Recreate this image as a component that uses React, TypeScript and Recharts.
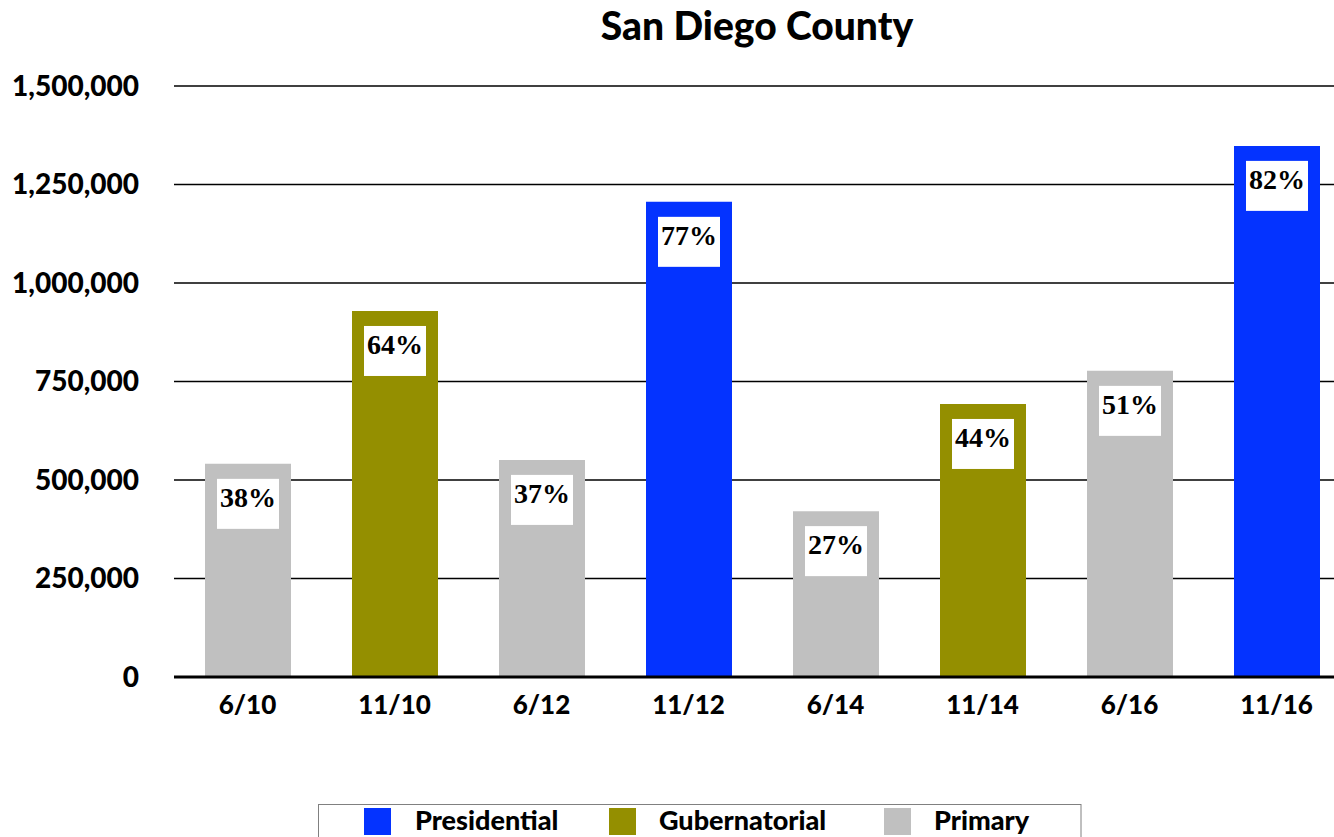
import React from 'react';
import { BarChart, Bar, XAxis, YAxis, CartesianGrid, Cell, LabelList } from 'recharts';

const categories = ['6/10', '11/10', '6/12', '11/12', '6/14', '11/14', '6/16', '11/16'];
const votes = [541000, 929000, 551000, 1206000, 421000, 693000, 777000, 1348000];
const turnoutPct = [38, 64, 37, 77, 27, 44, 51, 82];
const electionType = ['Primary', 'Gubernatorial', 'Primary', 'Presidential', 'Primary', 'Gubernatorial', 'Primary', 'Presidential'];
const yTicks = [0, 250000, 500000, 750000, 1000000, 1250000, 1500000];
const legendItems = ['Presidential', 'Gubernatorial', 'Primary'];
const typeColors: Record<string, string> = {
  Presidential: '#0433FF',
  Gubernatorial: '#948F00',
  Primary: '#C0C0C0',
};
const title = 'San Diego County';

const data = categories.map((c, i) => ({
  name: c,
  votes: votes[i],
  pct: turnoutPct[i],
  type: electionType[i],
}));

const SANS = 'Lato, "Open Sans", sans-serif';
const SERIF = '"Liberation Serif", "DejaVu Serif", serif';

const renderLabel = (props: any) => {
  const { x, y, width, value } = props;
  const cx = Number(x) + Number(width) / 2;
  const top = Number(y) + 15;
  return (
    <g>
      <rect x={cx - 31} y={top} width={62} height={50} fill="#FFFFFF" />
      <text
        x={cx}
        y={top + 28}
        textAnchor="middle"
        fontFamily={SERIF}
        fontWeight={700}
        fontSize={28}
        fill="#000"
      >
        {`${value}%`}
      </text>
    </g>
  );
};

const legendSquareX = [364, 609, 884];
const legendTextX = [415, 659, 934];

export default function App() {
  return (
    <div
      style={{
        position: 'absolute',
        left: 0,
        top: 0,
        width: 1334,
        height: 837,
        overflow: 'hidden',
        background: '#fff',
      }}
    >
      <BarChart
        width={1350}
        height={850}
        data={data}
        margin={{ top: 86, right: 0, left: 0, bottom: 143 }}
      >
        <CartesianGrid vertical={false} stroke="#000" strokeWidth={1.6} />
        <YAxis
          width={174}
          domain={[0, 1500000]}
          ticks={yTicks}
          axisLine={false}
          tickLine={false}
          tickSize={0}
          tickMargin={35}
          tickFormatter={(v: number) => v.toLocaleString('en-US')}
          tick={{ fontFamily: SANS, fontWeight: 900, fontSize: 28, fill: '#000' }}
          interval={0}
        />
        <XAxis
          dataKey="name"
          height={30}
          axisLine={{ stroke: '#000', strokeWidth: 3 }}
          tickLine={false}
          tickSize={0}
          tickMargin={19}
          interval={0}
          tick={{ fontFamily: SANS, fontWeight: 900, fontSize: 26, fill: '#000' }}
        />
        <Bar dataKey="votes" barSize={86} isAnimationActive={false}>
          {data.map((d, i) => (
            <Cell key={i} fill={typeColors[d.type]} />
          ))}
          <LabelList dataKey="pct" content={renderLabel} />
        </Bar>
      </BarChart>
      <svg
        width={1334}
        height={837}
        style={{ position: 'absolute', left: 0, top: 0, pointerEvents: 'none' }}
      >
        <text
          x={757}
          y={40}
          textAnchor="middle"
          fontFamily={SANS}
          fontWeight={900}
          fontSize={39}
          fill="#000"
        >
          {title}
        </text>
        <rect x={318.5} y={804.5} width={762.5} height={60} fill="none" stroke="#808080" strokeWidth={1} />
        {legendItems.map((item, i) => (
          <g key={item}>
            <rect x={legendSquareX[i]} y={808} width={27} height={27} fill={typeColors[item]} />
            <text
              x={legendTextX[i]}
              y={830}
              fontFamily={SANS}
              fontWeight={900}
              fontSize={27}
              fill="#000"
            >
              {item}
            </text>
          </g>
        ))}
      </svg>
    </div>
  );
}
